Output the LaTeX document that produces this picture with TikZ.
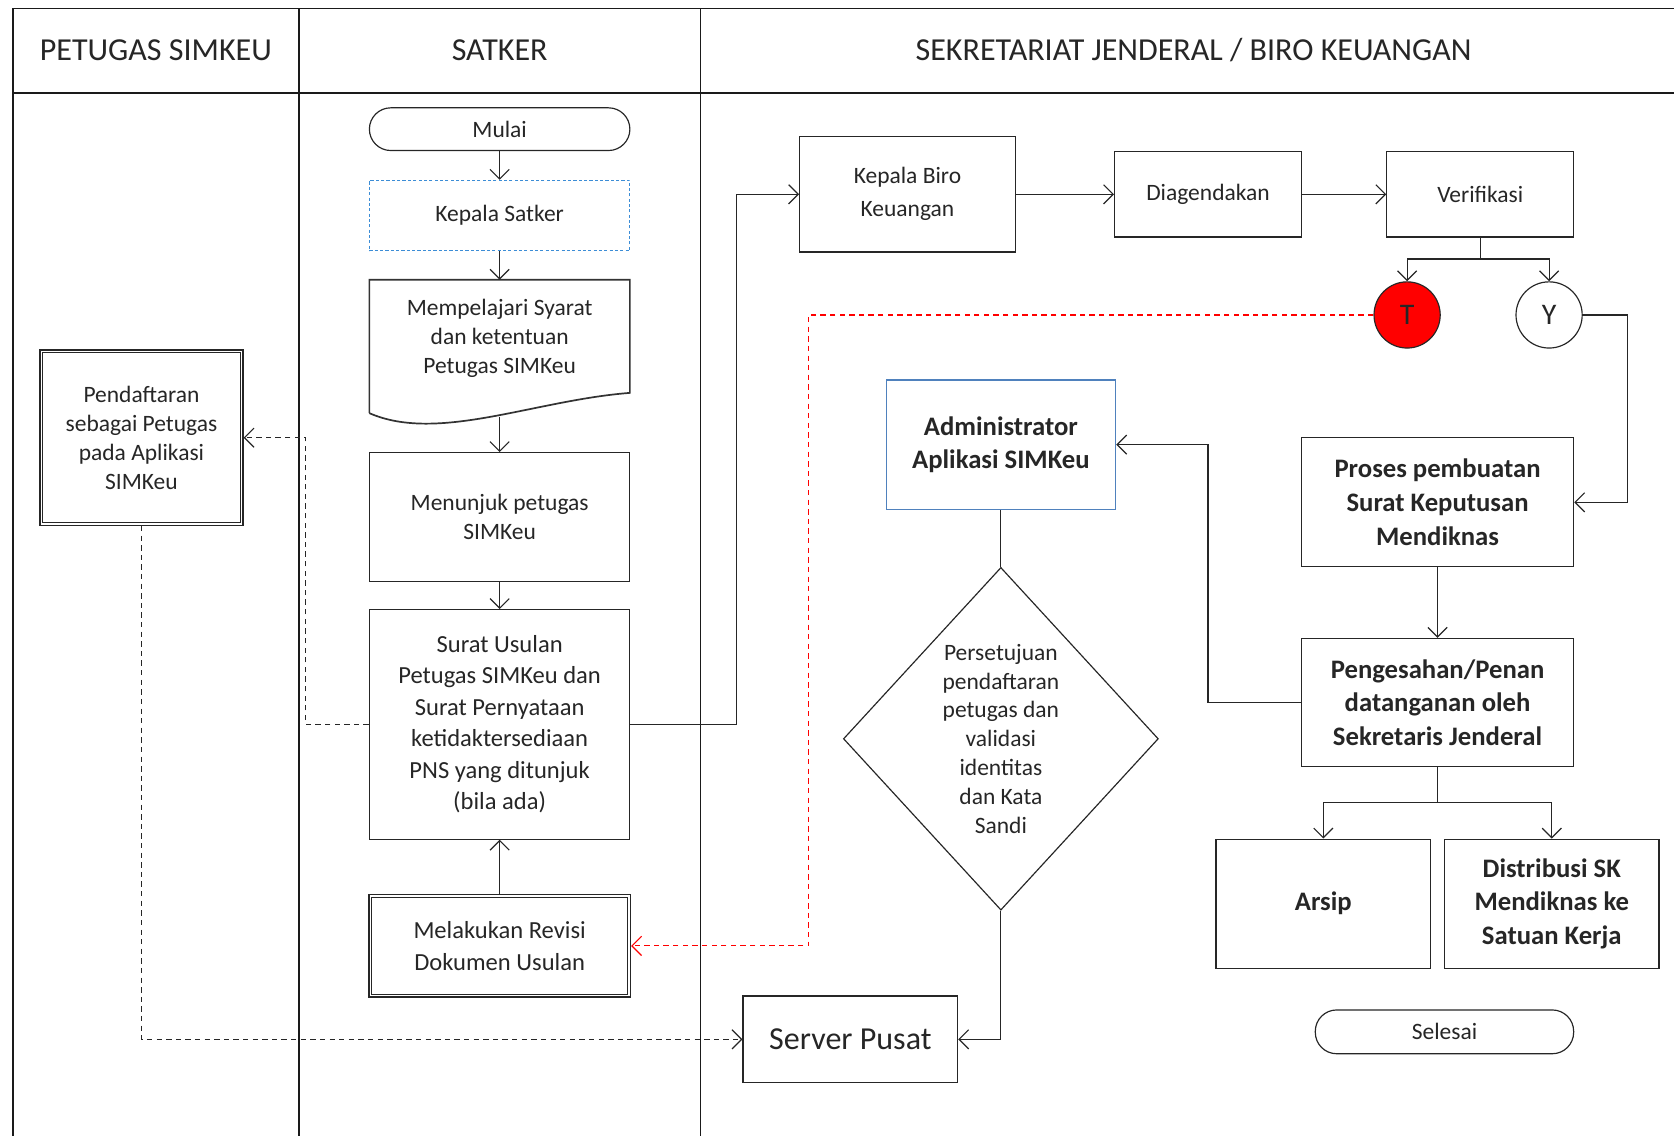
\documentclass[tikz,border=0pt]{standalone}
\usepackage{fontspec}
\setmainfont{Carlito}
\usetikzlibrary{arrows.meta,shapes.geometric}

\definecolor{framegray}{HTML}{1A1A1A}
\definecolor{dashblue}{HTML}{3C8DD6}
\definecolor{adminblue}{HTML}{4F81BD}

\begin{document}
\begin{tikzpicture}[x=1pt,y=-1pt,
  every node/.style={align=center, inner sep=0pt, text=black!85},
  txt/.style={font=\fontsize{22}{27}\selectfont},
  bigtxt/.style={font=\fontsize{23}{29.5}\selectfont},
  boldtxt/.style={font=\fontsize{25}{31.5}\selectfont\bfseries},
  headtxt/.style={font=\fontsize{30}{34}\selectfont},
  frame/.style={draw=framegray, line width=1.6pt},
  box/.style={draw=black!85, line width=1.1pt, rectangle},
  innerline/.style={draw=black!85, line width=0.9pt},
  stadium/.style={draw=black!85, line width=1.1pt, rectangle, rounded corners=20pt},
  arr/.style={draw=black!85, line width=1.1pt, -{Straight Barb[length=9pt,width=18pt,line width=1.1pt]}},
  plain/.style={draw=black!85, line width=1.1pt},
  dasharr/.style={arr, dash pattern=on 5pt off 4pt},
  redarr/.style={draw=red, line width=1.1pt, dash pattern=on 5pt off 4pt,
    -{Straight Barb[length=9pt,width=18pt,line width=1.1pt]}},
]
\useasboundingbox (0,0) rectangle (1568,1064);

% swimlane frame
\draw[frame] (12,1064) -- (12,8) -- (1568,8);
\draw[frame] (12,87) -- (1568,87);
\draw[frame] (280,8) -- (280,1064);
\draw[frame] (656,8) -- (656,1064);

\node[headtxt] (h1) at (146,47) {PETUGAS SIMKEU};
\node[headtxt] (h2) at (468,47) {SATKER};
\node[headtxt] (h3) at (1118,47) {SEKRETARIAT JENDERAL / BIRO KEUANGAN};

% SATKER lane
\node[stadium, txt, minimum width=244pt, minimum height=40pt] (mulai) at (468,121) {Mulai};
\node[box, draw=dashblue, dashed, dash pattern=on 3pt off 2pt, txt, minimum width=244pt, minimum height=66pt] (kasatker) at (468,202) {Kepala Satker};
% document shape with wavy bottom edge
\draw[draw=black!80, line width=1.6pt] (346,387) -- (346,262) -- (590,262) -- (590,368)
  .. controls (500,375) and (410,415) .. (346,387);
\node[txt, minimum width=244pt, minimum height=110pt] (doc) at (468,317)
  {Mempelajari Syarat\\dan ketentuan\\Petugas SIMKeu};
\coordinate (docb) at (468,391);
\node[box, txt, minimum width=244pt, minimum height=121pt] (tunjuk) at (468,484.5) {Menunjuk petugas\\SIMKeu};
\node[box, bigtxt, minimum width=244pt, minimum height=215pt] (surat) at (468,678.5)
  {Surat Usulan\\Petugas SIMKeu dan\\Surat Pernyataan\\ketidaktersediaan\\PNS yang ditunjuk\\(bila ada)};
\node[box, line width=1.3pt, bigtxt, minimum width=245pt, minimum height=96pt] (revisi) at (468,886) {Melakukan Revisi\\Dokumen Usulan};
\draw[innerline] ([xshift=3pt,yshift=-3pt]revisi.north west) rectangle ([xshift=-3pt,yshift=3pt]revisi.south east);

% PETUGAS SIMKEU lane
\node[box, line width=1.3pt, txt, minimum width=190pt, minimum height=164pt] (daftar) at (132.5,410)
  {Pendaftaran\\sebagai Petugas\\pada Aplikasi\\SIMKeu};
\draw[innerline] ([xshift=3pt,yshift=-3pt]daftar.north west) rectangle ([xshift=-3pt,yshift=3pt]daftar.south east);

% SEKRETARIAT JENDERAL lane
\node[box, font=\fontsize{22}{31}\selectfont, minimum width=202pt, minimum height=108pt] (kabiro) at (850,182) {Kepala Biro\\Keuangan};
\node[box, txt, minimum width=175pt, minimum height=80pt] (agenda) at (1131.5,182) {Diagendakan};
\node[box, txt, minimum width=175pt, minimum height=80pt] (verif) at (1386.5,182) {Verifikasi};
\node[circle, draw=black!85, line width=1.1pt, fill=red, minimum size=62pt, font=\fontsize{28}{30}\selectfont] (tidak) at (1318,295) {T};
\node[circle, draw=black!85, line width=1.1pt, fill=white, minimum size=62pt, font=\fontsize{28}{30}\selectfont] (ya) at (1451,295) {Y};
\node[box, draw=adminblue, boldtxt, minimum width=215pt, minimum height=121pt] (admin) at (937.5,416.5)
  {Administrator\\Aplikasi SIMKeu};
\node[diamond, draw=black!85, line width=1.1pt, txt, aspect=0.92, minimum width=295pt, minimum height=321pt] (setuju) at (937.5,692)
  {Persetujuan\\pendaftaran\\petugas dan\\validasi\\identitas\\dan Kata\\Sandi};
\node[box, font=\fontsize{30}{34}\selectfont, minimum width=201pt, minimum height=81pt] (server) at (796.5,973.5) {Server Pusat};
\node[box, boldtxt, minimum width=255pt, minimum height=121pt] (proses) at (1346.5,470.5)
  {Proses pembuatan\\Surat Keputusan\\Mendiknas};
\node[box, boldtxt, minimum width=255pt, minimum height=120pt] (sah) at (1346.5,658)
  {Pengesahan/Penan\\datanganan oleh\\Sekretaris Jenderal};
\node[box, boldtxt, minimum width=201pt, minimum height=121pt] (arsip) at (1239.5,846.5) {Arsip};
\node[box, boldtxt, minimum width=201pt, minimum height=121pt] (distrib) at (1453.5,846.5)
  {Distribusi SK\\Mendiknas ke\\Satuan Kerja};
\node[stadium, txt, minimum width=242pt, minimum height=41pt] (selesai) at (1353,966.5) {Selesai};

% connectors
\draw[arr] (mulai) -- (kasatker);
\draw[arr] (kasatker) -- (468,262);
\draw[arr] (docb) -- (tunjuk);
\draw[arr] (tunjuk) -- (surat);
\draw[arr] (revisi) -- (surat);
\draw[dasharr] (surat.west) -- ++(-59,0) |- (daftar.east);
\draw[dasharr] (daftar.south) |- (server.west);
\draw[arr] (surat.east) -- ++(99,0) |- (kabiro.west);
\draw[arr] (kabiro) -- (agenda);
\draw[arr] (agenda) -- (verif);
\draw[arr] (verif.south) -- ++(0,20) -| (tidak.north);
\draw[arr] (verif.south) -- ++(0,20) -| (ya.north);
\draw[redarr] (tidak.west) -- ++(-529,0) |- (revisi.east);
\draw[arr] (ya.east) -- ++(42,0) |- (proses.east);
\draw[arr] (proses) -- (sah);
\draw[arr] (sah.west) -- ++(-87,0) |- (admin.east);
\draw[arr] (sah.south) -- ++(0,33) -| (arsip.north);
\draw[arr] (sah.south) -- ++(0,33) -| (distrib.north);
\draw[plain] (admin.south) -- (setuju.north);
\draw[arr] (setuju.south) |- (server.east);
\end{tikzpicture}
\end{document}
